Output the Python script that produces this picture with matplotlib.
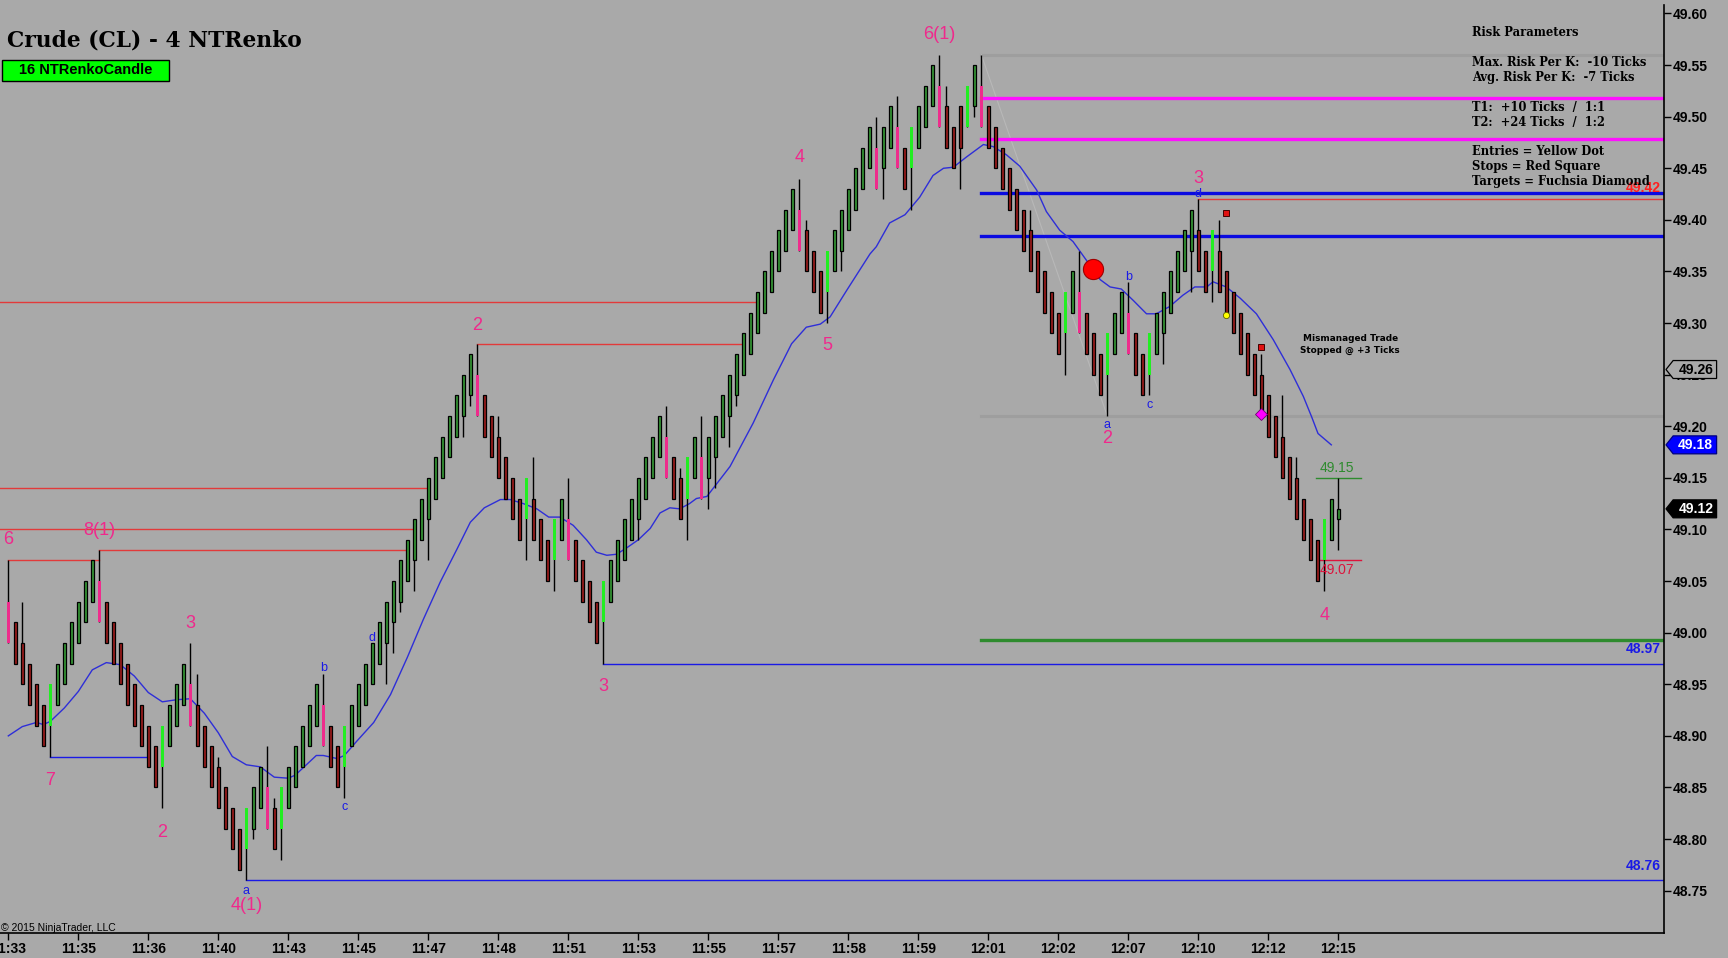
import matplotlib
matplotlib.use('Agg')
import matplotlib.pyplot as plt
from matplotlib.patches import Rectangle
from matplotlib.transforms import blended_transform_factory

# ---- 4 tick NTRenko bars, CL crude ----
opens = [
    49.03, 49.01, 48.99, 48.97, 48.95, 48.93, 48.91, 48.93, 48.95, 48.97,
    48.99, 49.01, 49.03, 49.05, 49.03, 49.01, 48.99, 48.97, 48.95, 48.93,
    48.91, 48.89, 48.87, 48.89, 48.91, 48.93, 48.95, 48.93, 48.91, 48.89,
    48.87, 48.85, 48.83, 48.81, 48.79, 48.81, 48.83, 48.85, 48.83, 48.81,
    48.83, 48.85, 48.87, 48.89, 48.91, 48.93, 48.91, 48.89, 48.87, 48.89,
    48.91, 48.93, 48.95, 48.97, 48.99, 49.01, 49.03, 49.05, 49.07, 49.09,
    49.11, 49.13, 49.15, 49.17, 49.19, 49.21, 49.23, 49.25, 49.23, 49.21,
    49.19, 49.17, 49.15, 49.13, 49.11, 49.13, 49.11, 49.09, 49.07, 49.09,
    49.11, 49.09, 49.07, 49.05, 49.03, 49.01, 49.03, 49.05, 49.07, 49.09,
    49.11, 49.13, 49.15, 49.17, 49.19, 49.17, 49.15, 49.13, 49.15, 49.17,
    49.15, 49.17, 49.19, 49.21, 49.23, 49.25, 49.27, 49.29, 49.31, 49.33,
    49.35, 49.37, 49.39, 49.41, 49.39, 49.37, 49.35, 49.33, 49.35, 49.37,
    49.39, 49.41, 49.43, 49.45, 49.47, 49.45, 49.47, 49.49, 49.47, 49.45,
    49.47, 49.49, 49.51, 49.53, 49.51, 49.49, 49.47, 49.49, 49.51, 49.53,
    49.51, 49.49, 49.47, 49.45, 49.43, 49.41, 49.39, 49.37, 49.35, 49.33,
    49.31, 49.29, 49.31, 49.33, 49.31, 49.29, 49.27, 49.25, 49.27, 49.29,
    49.31, 49.29, 49.27, 49.25, 49.27, 49.29, 49.31, 49.33, 49.35, 49.37,
    49.39, 49.37, 49.35, 49.37, 49.35, 49.33, 49.31, 49.29, 49.27, 49.25,
    49.23, 49.21, 49.19, 49.17, 49.15, 49.13, 49.11, 49.09, 49.07, 49.09,
    49.11,
]
closes = [
    48.99, 48.97, 48.95, 48.93, 48.91, 48.89, 48.95, 48.97, 48.99, 49.01,
    49.03, 49.05, 49.07, 49.01, 48.99, 48.97, 48.95, 48.93, 48.91, 48.89,
    48.87, 48.85, 48.91, 48.93, 48.95, 48.97, 48.91, 48.89, 48.87, 48.85,
    48.83, 48.81, 48.79, 48.77, 48.83, 48.85, 48.87, 48.81, 48.79, 48.85,
    48.87, 48.89, 48.91, 48.93, 48.95, 48.89, 48.87, 48.85, 48.91, 48.93,
    48.95, 48.97, 48.99, 49.01, 49.03, 49.05, 49.07, 49.09, 49.11, 49.13,
    49.15, 49.17, 49.19, 49.21, 49.23, 49.25, 49.27, 49.21, 49.19, 49.17,
    49.15, 49.13, 49.11, 49.09, 49.15, 49.09, 49.07, 49.05, 49.11, 49.13,
    49.07, 49.05, 49.03, 49.01, 48.99, 49.05, 49.07, 49.09, 49.11, 49.13,
    49.15, 49.17, 49.19, 49.21, 49.15, 49.13, 49.11, 49.17, 49.19, 49.13,
    49.19, 49.21, 49.23, 49.25, 49.27, 49.29, 49.31, 49.33, 49.35, 49.37,
    49.39, 49.41, 49.43, 49.37, 49.35, 49.33, 49.31, 49.37, 49.39, 49.41,
    49.43, 49.45, 49.47, 49.49, 49.43, 49.49, 49.51, 49.45, 49.43, 49.49,
    49.51, 49.53, 49.55, 49.49, 49.47, 49.45, 49.51, 49.53, 49.55, 49.49,
    49.47, 49.45, 49.43, 49.41, 49.39, 49.37, 49.35, 49.33, 49.31, 49.29,
    49.27, 49.33, 49.35, 49.29, 49.27, 49.25, 49.23, 49.29, 49.31, 49.33,
    49.27, 49.25, 49.23, 49.29, 49.31, 49.33, 49.35, 49.37, 49.39, 49.41,
    49.35, 49.33, 49.39, 49.33, 49.31, 49.29, 49.27, 49.25, 49.23, 49.21,
    49.19, 49.17, 49.15, 49.13, 49.11, 49.09, 49.07, 49.05, 49.11, 49.13,
    49.12,
]
highs = [
    49.07, 49.01, 49.03, 48.97, 48.95, 48.93, 48.95, 48.97, 48.99, 49.01,
    49.03, 49.05, 49.07, 49.08, 49.03, 49.01, 48.99, 48.97, 48.95, 48.93,
    48.91, 48.89, 48.91, 48.93, 48.95, 48.97, 48.99, 48.96, 48.91, 48.89,
    48.88, 48.85, 48.83, 48.81, 48.83, 48.85, 48.87, 48.89, 48.84, 48.85,
    48.87, 48.89, 48.91, 48.93, 48.95, 48.96, 48.91, 48.89, 48.91, 48.93,
    48.95, 48.97, 48.99, 49.01, 49.03, 49.05, 49.07, 49.09, 49.11, 49.13,
    49.15, 49.17, 49.19, 49.21, 49.23, 49.25, 49.27, 49.28, 49.23, 49.21,
    49.21, 49.17, 49.15, 49.13, 49.15, 49.17, 49.11, 49.09, 49.11, 49.13,
    49.15, 49.09, 49.07, 49.05, 49.03, 49.05, 49.07, 49.09, 49.11, 49.13,
    49.15, 49.17, 49.19, 49.21, 49.22, 49.17, 49.16, 49.17, 49.19, 49.21,
    49.19, 49.21, 49.23, 49.25, 49.27, 49.29, 49.31, 49.33, 49.35, 49.37,
    49.39, 49.41, 49.43, 49.44, 49.40, 49.37, 49.35, 49.37, 49.39, 49.41,
    49.43, 49.45, 49.47, 49.49, 49.50, 49.49, 49.51, 49.52, 49.47, 49.49,
    49.51, 49.53, 49.55, 49.56, 49.53, 49.49, 49.51, 49.53, 49.55, 49.56,
    49.51, 49.49, 49.47, 49.45, 49.43, 49.41, 49.41, 49.37, 49.35, 49.33,
    49.31, 49.33, 49.35, 49.37, 49.31, 49.29, 49.27, 49.29, 49.31, 49.33,
    49.34, 49.29, 49.27, 49.29, 49.31, 49.33, 49.35, 49.37, 49.39, 49.41,
    49.42, 49.37, 49.39, 49.40, 49.35, 49.33, 49.31, 49.29, 49.27, 49.27,
    49.23, 49.21, 49.23, 49.17, 49.17, 49.13, 49.11, 49.09, 49.11, 49.13,
    49.15,
]
lows = [
    48.99, 48.97, 48.95, 48.93, 48.91, 48.89, 48.88, 48.93, 48.95, 48.97,
    48.99, 49.01, 49.03, 49.01, 48.99, 48.97, 48.95, 48.93, 48.91, 48.89,
    48.87, 48.85, 48.83, 48.89, 48.91, 48.93, 48.91, 48.89, 48.87, 48.85,
    48.83, 48.81, 48.79, 48.77, 48.76, 48.80, 48.83, 48.81, 48.79, 48.78,
    48.83, 48.85, 48.87, 48.89, 48.91, 48.89, 48.87, 48.85, 48.84, 48.89,
    48.91, 48.93, 48.95, 48.97, 48.95, 48.98, 49.02, 49.05, 49.04, 49.09,
    49.07, 49.13, 49.15, 49.17, 49.19, 49.19, 49.22, 49.21, 49.19, 49.17,
    49.15, 49.13, 49.11, 49.09, 49.07, 49.09, 49.07, 49.05, 49.04, 49.09,
    49.07, 49.05, 49.03, 49.01, 48.99, 48.97, 49.03, 49.05, 49.07, 49.09,
    49.09, 49.13, 49.15, 49.17, 49.15, 49.13, 49.11, 49.09, 49.15, 49.13,
    49.12, 49.14, 49.19, 49.18, 49.22, 49.25, 49.27, 49.29, 49.31, 49.33,
    49.35, 49.37, 49.39, 49.37, 49.35, 49.33, 49.31, 49.30, 49.35, 49.35,
    49.39, 49.41, 49.43, 49.45, 49.43, 49.42, 49.47, 49.45, 49.43, 49.41,
    49.47, 49.49, 49.51, 49.49, 49.47, 49.45, 49.43, 49.49, 49.50, 49.49,
    49.47, 49.45, 49.43, 49.41, 49.39, 49.37, 49.35, 49.33, 49.31, 49.29,
    49.27, 49.25, 49.31, 49.29, 49.27, 49.25, 49.23, 49.21, 49.27, 49.29,
    49.27, 49.25, 49.23, 49.23, 49.27, 49.26, 49.31, 49.33, 49.35, 49.33,
    49.35, 49.33, 49.32, 49.33, 49.31, 49.29, 49.27, 49.25, 49.23, 49.21,
    49.19, 49.17, 49.15, 49.13, 49.11, 49.09, 49.07, 49.05, 49.04, 49.09,
    49.08,
]
# u = up, d = down, U = up reversal (lime), D = down reversal (pink)
bar_kind = list(
    "DdddddUuuu" "uuuDdddddd" "ddUuuuDddd" "ddddUuuDdU" "uuuuuDddUu"
    "uuuuuuuuuu" "uuuuuuuDdd" "ddddUdddUu" "DddddUuuuu" "uuuuDddUuD"
    "uuuuuuuuuu" "uuuDdddUuu" "uuuuDuuDdU" "uuuDdddUuD" "dddddddddd"
    "dUuDdddUuu" "DddUuuuuuu" "ddUddddddd" "ddddddddUu" "u"
)

# moving average (blue line), read at sampled bars
ma_bar = [0, 2, 4, 5, 6, 8, 10, 12, 14, 16, 18, 20, 22, 24, 26, 28, 30, 32, 34, 36,
          38, 40, 41, 44, 45, 47, 48, 49.8, 52.2, 54.6, 57, 59.3, 61.7, 64.1, 66, 68,
          70.3, 71.7, 73.6, 75.5, 77.2, 78.8, 80.7, 82.6, 84, 85.5, 86.9, 88.3, 90, 91.7,
          93.1, 94.5, 95.9, 97.3, 98.3, 99.8, 103.1, 106.4, 109.3, 111.9, 114, 116, 117.4,
          119.8, 123.1, 124, 125.9, 128.1, 130.2, 132.1, 133.6, 135, 136.9, 139.3, 140.7,
          142.6, 144.5, 146.9, 148.3, 150.2, 152.1, 154, 156, 157.4, 159, 160.7, 162.6,
          164, 165.9, 167.8, 169.5, 171.2, 172.1, 174, 176, 178.3, 180.7, 183.1, 185,
          186.2, 187.1, 189]
ma_val = [48.900, 48.909, 48.913, 48.911, 48.914, 48.927, 48.943, 48.964, 48.971, 48.969,
          48.958, 48.942, 48.933, 48.935, 48.936, 48.922, 48.903, 48.880, 48.872, 48.870,
          48.860, 48.859, 48.862, 48.881, 48.881, 48.878, 48.881, 48.895, 48.913, 48.940,
          48.976, 49.013, 49.049, 49.081, 49.107, 49.121, 49.129, 49.129, 49.125, 49.120,
          49.112, 49.112, 49.104, 49.090, 49.078, 49.075, 49.076, 49.082, 49.090, 49.101,
          49.116, 49.121, 49.120, 49.125, 49.130, 49.132, 49.161, 49.203, 49.245, 49.280,
          49.296, 49.299, 49.306, 49.332, 49.367, 49.374, 49.397, 49.405, 49.422, 49.443,
          49.450, 49.451, 49.461, 49.473, 49.471, 49.463, 49.452, 49.429, 49.408, 49.390,
          49.379, 49.361, 49.342, 49.335, 49.333, 49.322, 49.309, 49.309, 49.316, 49.327,
          49.335, 49.335, 49.340, 49.335, 49.324, 49.309, 49.284, 49.255, 49.229, 49.209,
          49.193, 49.182]

time_labels = ['11:33', '11:35', '11:36', '11:40', '11:43', '11:45', '11:47', '11:48',
               '11:51', '11:53', '11:55', '11:57', '11:58', '11:59', '12:01', '12:02',
               '12:07', '12:10', '12:12', '12:15']
price_ticks = [48.75, 48.80, 48.85, 48.90, 48.95, 49.00, 49.05, 49.10, 49.15, 49.20,
               49.25, 49.30, 49.35, 49.40, 49.45, 49.50, 49.55, 49.60]

# swing high levels (red) and swing low levels (blue)
res_price = [49.32, 49.28, 49.14, 49.10, 49.08, 49.07]
res_from = [-2, 67, -2, -2, 13, 0]
res_to = [106.9, 104.9, 60.0, 57.9, 56.9, 13]
sup_price = [48.88, 48.76, 48.97]
sup_from = [6, 34, 85]
sup_to = [20, None, None]

# elliott wave counts
wave_text = ['6', '8(1)', '7', '2', '3', '4(1)', '2', '3', '4', '5', '6(1)', '3', '2', '4']
wave_bar = [0, 13, 6, 22, 26, 34, 67, 85, 113, 117, 133, 170, 157, 188]
wave_price = [49.090, 49.099, 48.857, 48.806, 49.009, 48.736, 49.298, 48.948, 49.460,
              49.278, 49.580, 49.440, 49.188, 49.017]
abc_text = ['a', 'b', 'c', 'd', 'a', 'b', 'c', 'd']
abc_bar = [34, 45, 48, 52, 157, 160, 163, 170]
abc_price = [48.750, 48.966, 48.831, 48.995, 49.201, 49.345, 49.221, 49.425]

# trade plan levels drawn from the 6(1) top
plan_start = 139
target_lines = [49.518, 49.478]
entry_lines = [49.426, 49.384]
stop_line = 48.993

risk_lines = ['Risk Parameters', '', 'Max. Risk Per K:  -10 Ticks', 'Avg. Risk Per K:  -7 Ticks',
              '', 'T1:  +10 Ticks  /  1:1', 'T2:  +24 Ticks  /  1:2', '',
              'Entries = Yellow Dot', 'Stops = Red Square', 'Targets = Fuchsia Diamond']

BG = '#A9A9A9'
kind_face = {'u': '#359535', 'd': '#991C1C', 'U': '#22EE22', 'D': '#EE2C8C'}
PINK = '#F0288C'

W, H = 1728, 958
fig = plt.figure(figsize=(W / 100, H / 100), dpi=100, facecolor=BG)
ax = fig.add_axes([0, 25 / H, 1664 / W, 928 / H], facecolor=BG)
XMAX = (1664 - 8.3) / 7
tr = blended_transform_factory(ax.transAxes, ax.transData)

# levels
for p, a, b in zip(res_price, res_from, res_to):
    ax.plot([a, b], [p, p], color='#E23A3A', lw=1, zorder=1)
for p, a, b in zip(sup_price, sup_from, sup_to):
    ax.plot([a, b if b is not None else XMAX + 2], [p, p], color='#1A1AE6', lw=1, zorder=1)
ax.plot([170, XMAX + 2], [49.42, 49.42], color='#E23A3A', lw=1, zorder=1)
ax.text(0.998, 49.424, '49.42', transform=tr, ha='right', va='bottom', color='#FF2020',
        fontsize=10, fontweight='bold', family='Liberation Sans', zorder=6)
ax.text(0.998, 48.977, '48.97', transform=tr, ha='right', va='bottom', color='#1A1AE6',
        fontsize=10, fontweight='bold', family='Liberation Sans')
ax.text(0.998, 48.767, '48.76', transform=tr, ha='right', va='bottom', color='#1A1AE6',
        fontsize=10, fontweight='bold', family='Liberation Sans')

for p in [49.56, 49.21]:
    ax.plot([plan_start, XMAX + 2], [p, p], color='#9E9E9E', lw=2.2, zorder=0.5)
ax.plot([139, 157], [49.56, 49.21], color='#B8B8B8', lw=0.8, zorder=0.6)
for p in target_lines:
    ax.plot([plan_start, XMAX + 2], [p, p], color='#FF10FF', lw=2.4, zorder=1.5)
for p in entry_lines:
    ax.plot([plan_start, XMAX + 2], [p, p], color='#0A0AE0', lw=2.4, zorder=1.5)
ax.plot([plan_start, XMAX + 2], [stop_line, stop_line], color='#2E8B2E', lw=2.4, zorder=1.5)

# moving average
ax.plot(ma_bar, ma_val, color='#2E2ED8', lw=1, zorder=2)

# candles
xs = list(range(len(closes)))
ax.vlines(xs, lows, highs, color='black', lw=1, zorder=3)
for i in xs:
    k = bar_kind[i]
    o, c = opens[i], closes[i]
    if k in 'ud':
        ax.bar(i, c - o, bottom=o, width=0.5, color=kind_face[k], edgecolor='black',
               linewidth=0.9, zorder=4)
    else:
        ax.bar(i, c - o, bottom=o, width=0.46, color=kind_face[k], linewidth=0, zorder=4)

# wave labels
for t, b, p in zip(wave_text, wave_bar, wave_price):
    ax.text(b, p, t, color=PINK, fontsize=13, ha='center', va='center',
            family='Liberation Sans', zorder=6)
for t, b, p in zip(abc_text, abc_bar, abc_price):
    ax.text(b, p, t, color='#1A1AE6', fontsize=9, ha='center', va='center',
            family='Liberation Sans', zorder=6)

# trade markers
ax.plot(155, 49.352, 'o', ms=14.5, color='#FF0000', mec='#A00000', mew=0.8, zorder=7)
ax.plot(174, 49.308, 'o', ms=4.5, color='#FFFF00', mec='#606000', mew=0.6, zorder=7)
ax.plot([174, 179], [49.407, 49.277], 's', ms=4.5, color='#E01010', mec='#400000', mew=0.7,
        zorder=7)
ax.plot(179, 49.212, 'D', ms=6, color='#FF00FF', mec='#700070', mew=0.6, zorder=7)

# last bar high / low stubs
ax.plot([186.8, 193.3], [49.15, 49.15], color='#2E8B2E', lw=1, zorder=2)
ax.plot([187.3, 193.3], [49.07, 49.07], color='#DC143C', lw=1, zorder=2)
ax.text(189.8, 49.160, '49.15', color='#2E8B2E', fontsize=10, ha='center', va='center',
        family='Liberation Sans', zorder=6)
ax.text(189.8, 49.061, '49.07', color='#DC143C', fontsize=10, ha='center', va='center',
        family='Liberation Sans', zorder=6)
ax.text(191.7, 49.279, 'Mismanaged Trade\nStopped @ +3 Ticks', fontsize=6.4, ha='center',
        va='center', family='DejaVu Sans', fontweight='bold', linespacing=1.35, zorder=6)

# axes styling
for s in ['top', 'left']:
    ax.spines[s].set_visible(False)
for s in ['right', 'bottom']:
    ax.spines[s].set_color('black')
    ax.spines[s].set_linewidth(1.2)
ax.yaxis.tick_right()
ax.set_yticks(price_ticks)
ax.set_yticklabels(['%.2f' % v for v in price_ticks])
ax.set_xticks(list(range(0, 191, 10)))
ax.set_xticklabels(time_labels)
ax.tick_params(axis='both', direction='out', length=5, width=1, color='black', labelsize=10)
ax.tick_params(axis='y', pad=1)
ax.tick_params(axis='x', pad=1.5)
for lab in ax.get_xticklabels() + ax.get_yticklabels():
    lab.set_fontweight('bold')
    lab.set_family('Liberation Sans')


# price tags on the axis
def price_tag(price, text, face, edge, fg):
    h = 0.0087
    x0, x1, x2 = 1.0012, 1.0055, 1.0316
    ax.fill([x0, x1, x2, x2, x1], [price, price + h, price + h, price - h, price - h],
            transform=tr, facecolor=face, edgecolor=edge, lw=0.9, clip_on=False, zorder=20)
    ax.text((x1 + x2) / 2 + 0.0005, price, text, transform=tr, ha='center', va='center',
            color=fg, fontsize=10, fontweight='bold', family='Liberation Sans',
            clip_on=False, zorder=21)


price_tag(49.255, '49.26', BG, 'black', 'black')
price_tag(49.182, '49.18', '#0000FF', '#000080', 'white')
price_tag(49.120, '49.12', 'black', 'black', 'white')
ax.set_xlim(-8.3 / 7, XMAX)
ax.set_ylim(48.709, 49.6082)

# header
fig.text(7 / W, 1 - 40 / H, 'Crude (CL) - 4 NTRenko', family='DejaVu Serif', fontweight='bold',
         fontsize=15.7, ha='left', va='center')
fig.patches.append(Rectangle((2 / W, 1 - 80.7 / H), 167 / W, 20.4 / H, transform=fig.transFigure,
                             facecolor='#00FF00', edgecolor='black', lw=1, figure=fig))
fig.text(85.5 / W, 1 - 70.3 / H, '16 NTRenkoCandle', family='Liberation Sans', fontweight='bold',
         fontsize=10.5, ha='center', va='center')
ry = 32.7
for line in risk_lines:
    if line:
        fig.text(1472 / W, 1 - ry / H, line, family='DejaVu Serif', fontweight='bold',
                 fontsize=8.3, ha='left', va='center')
    ry += 14.9
fig.text(1 / W, 1 - 928 / H, '\u00a9 2015 NinjaTrader, LLC', family='Liberation Sans',
         fontsize=7.5, ha='left', va='center')

fig.savefig('out.png', dpi=100, facecolor=BG)
